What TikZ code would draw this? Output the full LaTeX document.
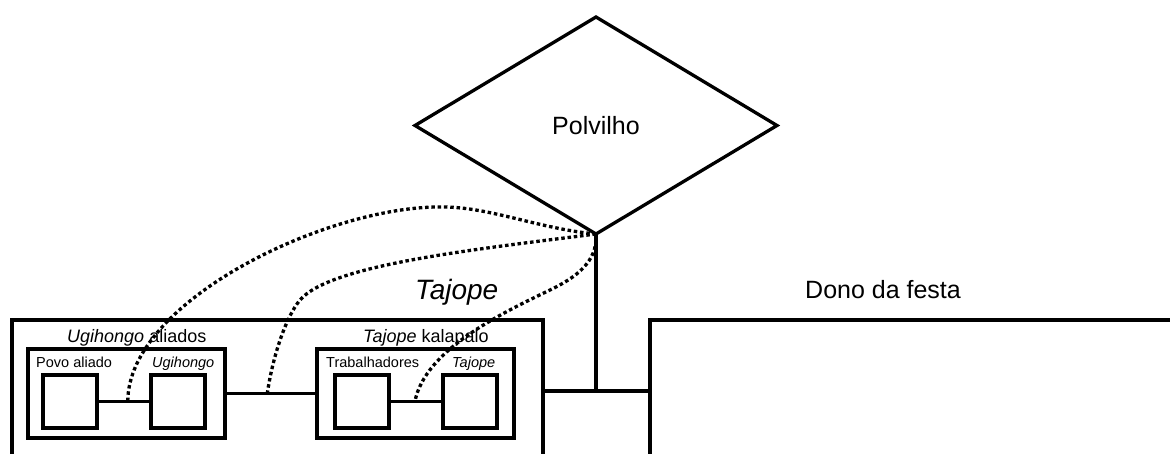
\documentclass[tikz,border=0pt]{standalone}
\usepackage{fontspec}
\setmainfont{Liberation Sans}
\usetikzlibrary{shapes.geometric,calc}
\begin{document}
\begin{tikzpicture}[x=1pt,y=-1pt,
  frame/.style={draw, line width=3.3pt, inner sep=0pt, outer sep=0pt},
  grp/.style={frame, rectangle, minimum width=197pt, minimum height=89pt, anchor=north west},
  sq/.style={frame, rectangle, minimum width=54pt, minimum height=53pt, anchor=north west},
  link/.style={line width=3.1pt},
  tie/.style={line width=3.3pt, dash pattern=on 3.5pt off 2.8pt},
  lbl/.style={inner sep=0pt, anchor=base west},
  bigfont/.style={font=\fontsize{25}{30}\selectfont},
  grpfont/.style={font=\fontsize{18}{22}\selectfont},
  smallfont/.style={font=\fontsize{14.5}{17}\selectfont}]
\useasboundingbox (0,0) rectangle (1170,453);
\fill[white] (0,0) rectangle (1170,453);
\clip (0,0) rectangle (1170,453);

% central diamond
\node[frame, diamond, minimum width=362pt, minimum height=217pt, bigfont] (dia) at (596,125.5) {Polvilho};

% open frames running off the bottom edge
\node[frame, rectangle, minimum width=531pt, minimum height=200pt, anchor=north west] (outer) at (12,320) {};
\node[frame, rectangle, minimum width=600pt, minimum height=200pt, anchor=north west] (dono) at (650,320) {};

% groups and their members
\node[grp] (ug) at (28,349) {};
\node[grp] (tk) at (317,349) {};
\node[sq] (povo) at (43,375) {};
\node[sq] (ugs) at (151,375) {};
\node[sq] (trab) at (335,375) {};
\node[sq] (tajs) at (443,375) {};

% labels
\node[lbl, grpfont] (lug) at (67,342) {\textit{Ugihongo} aliados};
\node[lbl, grpfont] (ltk) at (363,342) {\textit{Tajope} kalapalo};
\node[lbl, smallfont] (lpovo) at (36,367) {Povo aliado};
\node[lbl, smallfont] (lugs) at (152,367) {\textit{Ugihongo}};
\node[lbl, smallfont] (ltrab) at (326,367) {Trabalhadores};
\node[lbl, smallfont] (ltajs) at (452,367) {\textit{Tajope}};
\node[lbl, font=\fontsize{28}{33}\selectfont] (ltaj) at (415,299) {\textit{Tajope}};
\node[lbl, bigfont] (ldono) at (805,298) {Dono da festa};

% solid connectors
\draw[link] (povo.east) -- (ugs.west);
\draw[link] (trab.east) -- (tajs.west);
\draw[link] (ug.east) -- (tk.west);
\coordinate (j) at (dia.south |- 0,391);
\draw[link] (dia.south) -- (j);
\draw[link] (j -| outer.east) -- (j -| dono.west);

% dotted ties from the diamond
\coordinate (m1) at ($(povo.east)!0.57!(ugs.west)$);
\coordinate (m2) at ($(ug.east)!0.46!(tk.west)$);
\coordinate (m3) at ($(trab.east)!0.48!(tajs.west)$);
\draw[tie] (dia.south) .. controls (540,229) and (490,207) .. (443,207)
  .. controls (330,205) and (128,300) .. (m1);
\draw[tie] (dia.south) .. controls (470,250) and (330,265) .. (300,300)
  .. controls (285,318) and (272,360) .. (m2);
\draw[tie] (dia.south) .. controls (598,262) and (575,278) .. (550,290)
  .. controls (500,314) and (425,350) .. (m3);
\end{tikzpicture}
\end{document}
